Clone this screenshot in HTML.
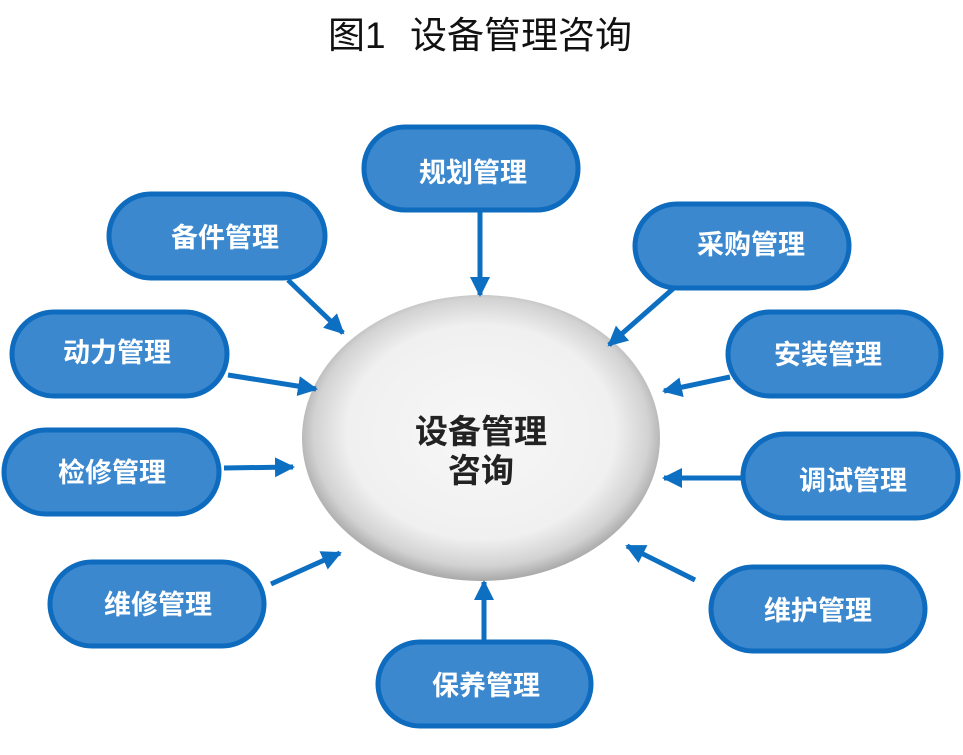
<!DOCTYPE html>
<html><head><meta charset="utf-8"><style>
body{margin:0;width:963px;height:750px;background:#fff;overflow:hidden;font-family:"Liberation Sans","Noto Sans CJK SC",sans-serif}
</style></head><body>
<svg width="963" height="750" viewBox="0 0 963 750" xmlns="http://www.w3.org/2000/svg" font-family="Liberation Sans, Noto Sans CJK SC, sans-serif">
<defs>
<radialGradient id="g" cx="50%" cy="48%" r="52%">
<stop offset="0" stop-color="#f7f7f7"/><stop offset="0.72" stop-color="#f0f0f0"/><stop offset="0.9" stop-color="#d2d2d2"/><stop offset="1" stop-color="#a8a8a8"/>
</radialGradient>
<marker id="a" viewBox="0 0 10 10" refX="9" refY="5" markerWidth="4" markerHeight="4" orient="auto"><path d="M0,0 L10,5 L0,10 z" fill="#0d6fc1"/></marker>
</defs>
<text x="328" y="48" font-size="37" fill="#111">图1</text>
<text x="410" y="48" font-size="37" fill="#111">设备管理咨询</text>
<ellipse cx="481" cy="438" rx="179" ry="143" fill="url(#g)"/>
<text x="481" y="443" font-size="33" font-weight="bold" text-anchor="middle" fill="#222">设备管理</text>
<text x="481" y="482" font-size="33" font-weight="bold" text-anchor="middle" fill="#222">咨询</text>
<g stroke="#0d6fc1" stroke-width="5" marker-end="url(#a)">
<line x1="480" y1="208" x2="480" y2="295"/>
<line x1="288" y1="280" x2="343" y2="333"/>
<line x1="675" y1="287" x2="609" y2="345"/>
<line x1="228" y1="375" x2="316" y2="389"/>
<line x1="730" y1="377" x2="664" y2="391"/>
<line x1="224" y1="468" x2="293" y2="467"/>
<line x1="741" y1="478" x2="664" y2="478"/>
<line x1="271" y1="584" x2="340" y2="553"/>
<line x1="695" y1="580" x2="627" y2="546"/>
<line x1="484" y1="640" x2="484" y2="582"/>
</g>
<g fill="#3b88cf" stroke="#0e6bbd" stroke-width="5">
<rect x="364" y="127" width="214" height="83" rx="41"/>
<rect x="109" y="194" width="216" height="84" rx="42"/>
<rect x="635" y="204" width="214" height="84" rx="42"/>
<rect x="12" y="312" width="215" height="84" rx="42"/>
<rect x="728" y="312" width="213" height="84" rx="42"/>
<rect x="4" y="430" width="215" height="84" rx="42"/>
<rect x="743" y="434" width="215" height="84" rx="42"/>
<rect x="50" y="562" width="214" height="84" rx="42"/>
<rect x="711" y="567" width="214" height="84" rx="42"/>
<rect x="378" y="642" width="213" height="84" rx="42"/>
</g>
<g fill="#fff" font-size="27" font-weight="bold" text-anchor="middle">
<text x="473" y="182">规划管理</text>
<text x="225" y="247">备件管理</text>
<text x="751" y="254">采购管理</text>
<text x="117" y="362">动力管理</text>
<text x="828" y="364">安装管理</text>
<text x="112" y="482">检修管理</text>
<text x="853" y="490">调试管理</text>
<text x="158" y="614">维修管理</text>
<text x="818" y="620">维护管理</text>
<text x="486" y="695">保养管理</text>
</g>
</svg>
</body></html>
